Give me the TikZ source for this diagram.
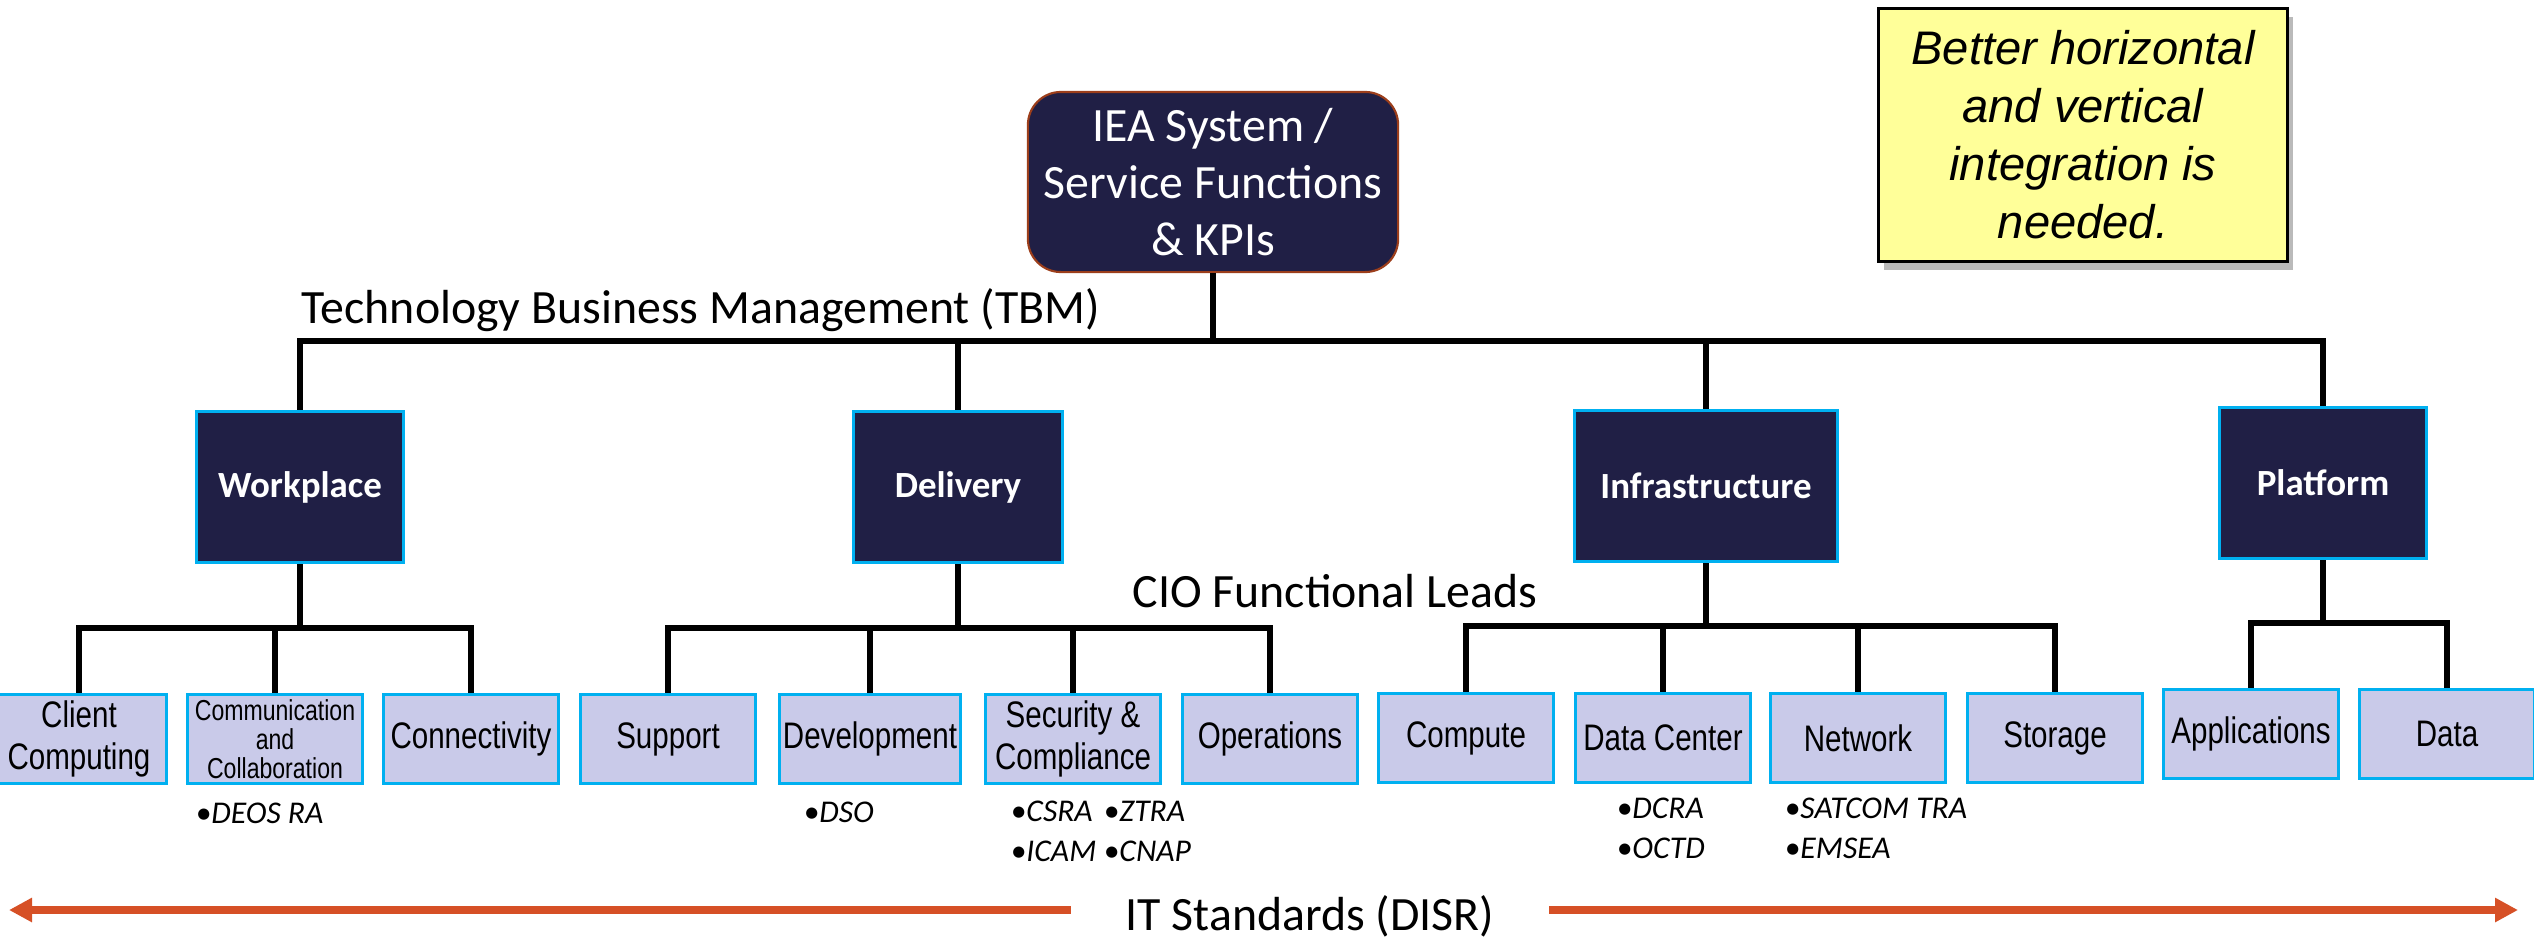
\documentclass[tikz,border=0pt]{standalone}
\usepackage{fontspec}
\setmainfont{Carlito}
\newfontfamily\narrowsans[FakeStretch=0.8]{Liberation Sans}
\newfontfamily\plainsans{Liberation Sans}
\usetikzlibrary{arrows.meta,shadows}

\definecolor{navy}{RGB}{32,31,69}
\definecolor{skyline}{RGB}{0,176,240}
\definecolor{lilac}{RGB}{201,202,233}
\definecolor{rust}{RGB}{156,62,27}
\definecolor{notepad}{RGB}{255,255,153}
\definecolor{standard}{RGB}{214,80,38}

\begin{document}
\begin{tikzpicture}[x=0.01cm,y=-0.01cm]
			\tikzstyle{rootbox} = [draw=rust,line width=0.6pt,fill=navy,rounded corners=0.33cm,minimum width=3.7cm,minimum height=1.8cm,text=white,align=center,font=\fontsize{13.6}{16.2}\selectfont]
			\tikzstyle{areabox} = [draw=skyline,line width=0.85pt,fill=navy,minimum height=1.51cm,text=white,font=\bfseries\fontsize{10.5}{12}\selectfont]
			\tikzstyle{leafbox} = [draw=skyline,line width=0.85pt,fill=lilac,minimum width=1.74cm,minimum height=0.88cm,inner sep=1pt,align=center,font=\narrowsans\fontsize{10.5}{11.9}\selectfont]
			\tikzstyle{notebox} = [draw=black,line width=0.7pt,fill=notepad,minimum width=4.09cm,minimum height=2.53cm,align=center,font=\plainsans\itshape\fontsize{13.4}{16.5}\selectfont,drop shadow={shadow xshift=1.5pt,shadow yshift=-2.5pt,fill=black!45,opacity=0.6}]
			\tikzstyle{leadtext} = [inner sep=0pt,font=\fontsize{13.6}{16}\selectfont]
			\tikzstyle{ralist} = [inner sep=0pt,align=left,font=\itshape\fontsize{9}{11.2}\selectfont]
			\tikzstyle{busline} = [line width=1.6pt]
			\tikzstyle{stdarrow} = [draw=standard,line width=2.3pt,-{Triangle[length=0.23cm,width=0.23cm]}]
			
			\useasboundingbox (0,0) rectangle (2534,945);
			
			\node[rootbox] (iea) at (1213,182) {IEA System /\\Service Functions\\\& KPIs};
			\node[notebox] (note) at (2083,135) {Better horizontal\\and vertical\\integration is\\needed.};
			\node[leadtext,anchor=base west] (tbmlabel) at (301,323) {Technology Business Management (TBM)};
			\node[leadtext,anchor=base] (ciolabel) at (1335,607) {CIO Functional Leads};
			
			% service areas
			\node[areabox,minimum width=2.06cm] (work) at (300,487) {Workplace};
			\node[areabox,minimum width=2.08cm] (deliv) at (958,487) {Delivery};
			\node[areabox,minimum width=2.62cm] (infra) at (1706,486) {Infrastructure};
			\node[areabox,minimum width=2.07cm] (plat) at (2323,483) {Platform};
			
			% functions
			\node[leafbox] (client) at (79,739) {Client\\Computing};
			\node[leafbox,font=\narrowsans\fontsize{8.2}{8.3}\selectfont] (comm) at (275,739) {Communication\\and\\Collaboration};
			\node[leafbox] (conn) at (471,739) {Connectivity};
			\node[leafbox] (supp) at (668,739) {Support};
			\node[leafbox] (dev) at (870,739) {Development};
			\node[leafbox] (sec) at (1073,739) {Security \&\\Compliance};
			\node[leafbox] (ops) at (1270,739) {Operations};
			\node[leafbox] (comp) at (1466,738) {Compute};
			\node[leafbox] (dc) at (1663,738) {Data Center};
			\node[leafbox] (net) at (1858,738) {Network};
			\node[leafbox] (stor) at (2055,738) {Storage};
			\node[leafbox] (apps) at (2251,734) {Applications};
			\node[leafbox] (data) at (2447,734) {Data};
			
			% reference architectures (base = last line)
			\node[ralist,anchor=base west] (deos) at (195,823) {•DEOS RA};
			\node[ralist,anchor=base west] (dso) at (803,822) {•DSO};
			\node[ralist,anchor=base west] (csra) at (1010,861) {•CSRA\\•ICAM};
			\node[ralist,anchor=base west] (ztra) at (1103,861) {•ZTRA\\•CNAP};
			\node[ralist,anchor=base west] (dcra) at (1616,858) {•DCRA\\•OCTD};
			\node[ralist,anchor=base west] (satcom) at (1784,858) {•SATCOM TRA\\•EMSEA};
			
			% tree
			\coordinate (tbm) at (1213,341);
			\draw[busline] (iea) -- (tbm);
			\foreach \n in {work,deliv,infra,plat}
				\draw[busline] (tbm) -| (\n);
			
			\coordinate (workbus) at (300,628);
			\draw[busline] (work) -- (workbus);
			\foreach \n in {client,comm,conn}
				\draw[busline] (workbus) -| (\n);
			
			\coordinate (delivbus) at (958,628);
			\draw[busline] (deliv) -- (delivbus);
			\foreach \n in {supp,dev,sec,ops}
				\draw[busline] (delivbus) -| (\n);
			
			\coordinate (infrabus) at (1706,626);
			\draw[busline] (infra) -- (infrabus);
			\foreach \n in {comp,dc,net,stor}
				\draw[busline] (infrabus) -| (\n);
			
			\coordinate (platbus) at (2323,623);
			\draw[busline] (plat) -- (platbus);
			\foreach \n in {apps,data}
				\draw[busline] (platbus) -| (\n);
			
			% standards
			\node[leadtext,inner xsep=0.54cm] (itstd) at (1310,916) {IT Standards (DISR)};
			\coordinate (stdl) at (9,910);
			\coordinate (stdr) at (2518,910);
			\draw[stdarrow] (itstd.west |- stdl) -- (stdl);
			\draw[stdarrow] (itstd.east |- stdr) -- (stdr);
		\end{tikzpicture}
\end{document}
